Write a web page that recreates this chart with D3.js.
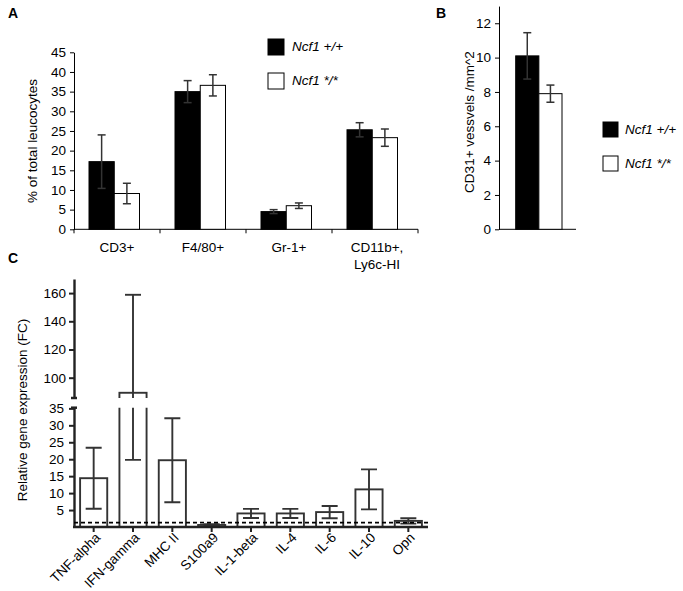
<!DOCTYPE html>
<html><head><meta charset="utf-8">
<script src="https://cdn.jsdelivr.net/npm/d3@7"></script>
<style>
body{margin:0;background:#fff;}
text{font-family:"Liberation Sans",Arial,sans-serif;}
</style></head><body>
<svg id="c" width="683" height="591"></svg>
<script>
// ---------- Data ----------
// Panel A
const catsA = ["CD3+", "F4/80+", "Gr-1+", "CD11b+,|Ly6c-HI"];
const seriesNames = ["Ncf1 +/+", "Ncf1 */*"];
const wtA = [17.2, 35.0, 4.5, 25.3];
const wtAerr = [6.8, 2.8, 0.5, 1.8];
const mutA = [9.1, 36.6, 6.0, 23.3];
const mutAerr = [2.6, 2.7, 0.7, 2.2];
const ticksA = [0, 5, 10, 15, 20, 25, 30, 35, 40, 45];
// Panel B
const wtB = 10.1, wtBerr = 1.35;
const mutB = 7.9, mutBerr = 0.5;
const ticksB = [0, 2, 4, 6, 8, 10, 12];
// Panel C
const catsC = ["TNF-alpha", "IFN-gamma", "MHC II", "S100a9", "IL-1-beta", "IL-4", "IL-6", "IL-10", "Opn"];
const valC = [14.4, 89.3, 19.7, 0.6, 4.0, 4.0, 4.4, 11.1, 1.8];
const errC = [9.0, 69.5, 12.4, 0.2, 1.35, 1.35, 1.8, 5.9, 0.8];
const ticksCLow = [5, 10, 15, 20, 25, 30, 35];
const ticksCHigh = [100, 120, 140, 160];
const refLine = 1.3;

const svg = d3.select("#c");
const F = 13.5;

// ---------- Panel labels ----------
svg.append("text").attr("x", 8).attr("y", 18).attr("font-size", 14).attr("font-weight", "bold").text("A");
svg.append("text").attr("x", 436).attr("y", 18).attr("font-size", 14).attr("font-weight", "bold").text("B");
svg.append("text").attr("x", 8).attr("y", 263).attr("font-size", 14).attr("font-weight", "bold").text("C");

// ---------- Panel A ----------
const yA = d3.scaleLinear().domain([0, 45]).range([229.3, 52.3]);
const x0A = d3.scaleBand().domain(catsA).range([74, 418]);
const x1A = d3.scaleBand().domain(seriesNames).range([15, 65.5]);
const gA = svg.append("g");
const axA = gA.append("g").attr("transform", "translate(74,0)")
  .call(d3.axisLeft(yA).tickValues(ticksA).tickSize(4).tickPadding(4).tickSizeOuter(0));
axA.selectAll("text").attr("font-size", F).attr("font-family", "Liberation Sans, Arial, sans-serif").attr("fill", "#000");
axA.selectAll("line,path").attr("stroke", "#000");
// x axis
const xAxA = gA.append("g").attr("transform", "translate(0,229.3)");
xAxA.append("line").attr("x1", 74).attr("x2", 418).attr("stroke", "#000");
const bnds = catsA.map(c => x0A(c)).concat([418]);
xAxA.selectAll("line.t").data(bnds).enter().append("line").attr("class", "t")
  .attr("x1", d => d).attr("x2", d => d).attr("y1", 0).attr("y2", 4).attr("stroke", "#000");
catsA.forEach(c => {
  const parts = c.split("|");
  const t = xAxA.append("text").attr("text-anchor", "middle").attr("font-size", F);
  parts.forEach((p, i) => t.append("tspan").attr("x", x0A(c) + x0A.bandwidth() / 2 + (parts.length > 1 ? 2 : 0)).attr("y", 23 + i * 17).text(p));
});
function drawErr(g, x, yTop, yBot, hw, color, w) {
  g.append("line").attr("x1", x).attr("x2", x).attr("y1", yTop).attr("y2", yBot).attr("stroke", color).attr("stroke-width", w);
  g.append("line").attr("x1", x - hw).attr("x2", x + hw).attr("y1", yTop).attr("y2", yTop).attr("stroke", color).attr("stroke-width", w);
  g.append("line").attr("x1", x - hw).attr("x2", x + hw).attr("y1", yBot).attr("y2", yBot).attr("stroke", color).attr("stroke-width", w);
}
catsA.forEach((c, i) => {
  [[wtA, wtAerr, "#000"], [mutA, mutAerr, "#fff"]].forEach(([v, e, fill], s) => {
    const x = x0A(c) + x1A(seriesNames[s]);
    const w = x1A.bandwidth();
    gA.append("rect").attr("x", x).attr("y", yA(v[i])).attr("width", w).attr("height", yA(0) - yA(v[i]))
      .attr("fill", fill).attr("stroke", "#000").attr("stroke-width", 1);
    drawErr(gA, x + w / 2, yA(v[i] + e[i]), yA(v[i] - e[i]), 4, "#333", 1.5);
  });
});
// legend A
[["#000", seriesNames[0], 39], ["#fff", seriesNames[1], 73]].forEach(([f, t, y]) => {
  gA.append("rect").attr("x", 268).attr("y", y).attr("width", 16).attr("height", 16).attr("fill", f).attr("stroke", "#000");
  gA.append("text").attr("x", 292).attr("y", y + 12).attr("font-size", F).attr("font-style", "italic").text(t);
});
gA.append("text").attr("transform", "translate(37,141) rotate(-90)").attr("text-anchor", "middle").attr("font-size", F)
  .text("% of total leucocytes");

// ---------- Panel B ----------
const yB = d3.scaleLinear().domain([0, 13]).range([229.3, 229.3 - 13 * 17.17]);
const xB = d3.scaleBand().domain(seriesNames).range([515.7, 562]);
const gB = svg.append("g");
const axB = gB.append("g").attr("transform", "translate(499,0)")
  .call(d3.axisLeft(yB).tickValues(ticksB).tickSize(4).tickPadding(4).tickSizeOuter(0));
axB.selectAll("text").attr("font-size", F).attr("font-family", "Liberation Sans, Arial, sans-serif").attr("fill", "#000");
axB.selectAll("line,path").attr("stroke", "#000");
gB.append("line").attr("x1", 499).attr("x2", 576).attr("y1", 229.3).attr("y2", 229.3).attr("stroke", "#000");
[[wtB, wtBerr, "#000", 0], [mutB, mutBerr, "#fff", 1]].forEach(([v, e, f, s]) => {
  const x = xB(seriesNames[s]), w = xB.bandwidth();
  gB.append("rect").attr("x", x).attr("y", yB(v)).attr("width", w).attr("height", yB(0) - yB(v))
    .attr("fill", f).attr("stroke", "#000");
  drawErr(gB, x + w / 2, yB(v + e), yB(v - e), 4, "#333", 1.5);
});
gB.append("text").attr("transform", "translate(474,122) rotate(-90)").attr("text-anchor", "middle").attr("font-size", F)
  .text("CD31+ vessvels /mm^2");
[["#000", seriesNames[0], 122], ["#fff", seriesNames[1], 156]].forEach(([f, t, y]) => {
  gB.append("rect").attr("x", 603).attr("y", y).attr("width", 15).attr("height", 15).attr("fill", f).attr("stroke", "#000");
  gB.append("text").attr("x", 625).attr("y", y + 12).attr("font-size", F).attr("font-style", "italic").text(t);
});

// ---------- Panel C ----------
const yL = d3.scaleLinear().domain([0, 35.2]).range([527, 407.7]);
const yU = d3.scaleLinear().domain([85.6, 170]).range([398, 279]);
const xC = d3.scaleBand().domain(catsC).range([74, 428]).paddingInner(0.31).paddingOuter(0.155);
const xCc = d3.scaleBand().domain(catsC).range([74, 428]);
const gC = svg.append("g");
const lw = 2.4;
// axes
const axL = gC.append("g").attr("transform", "translate(74,0)")
  .call(d3.axisLeft(yL).tickValues(ticksCLow).tickSize(5).tickPadding(5).tickSizeOuter(0));
const axU = gC.append("g").attr("transform", "translate(74,0)")
  .call(d3.axisLeft(yU).tickValues(ticksCHigh).tickSize(5).tickPadding(3).tickSizeOuter(0));
[axL, axU].forEach(a => {
  a.selectAll("text").attr("font-size", F).attr("font-family", "Liberation Sans, Arial, sans-serif").attr("fill", "#000");
  a.selectAll("line").attr("stroke", "#222").attr("stroke-width", 2);
  a.select("path").attr("stroke", "#222").attr("stroke-width", lw);
});
// break caps
[[398], [407.7]].forEach(([y]) => gC.append("line").attr("x1", 71).attr("x2", 77).attr("y1", y).attr("y2", y).attr("stroke", "#222").attr("stroke-width", 2.5));
// clip paths for segments
const defs = svg.append("defs");
defs.append("clipPath").attr("id", "clipL").append("rect").attr("x", 74).attr("y", 407.7).attr("width", 360).attr("height", 121);
defs.append("clipPath").attr("id", "clipU").append("rect").attr("x", 74).attr("y", 270).attr("width", 360).attr("height", 128);
function drawBars(g, y) {
  catsC.forEach((c, i) => {
    const x = xC(c), w = xC.bandwidth(), v = valC[i], e = errC[i];
    g.append("rect").attr("x", x).attr("y", y(v)).attr("width", w).attr("height", Math.max(0, y(0) - y(v)))
      .attr("fill", "#fff").attr("stroke", "#333").attr("stroke-width", 1.9);
    const cx = x + w / 2;
    drawErr(g, cx, y(v + e), y(Math.max(0, v - e)), 8, "#333", 1.9);
  });
}
const gLo = gC.append("g").attr("clip-path", "url(#clipL)");
drawBars(gLo, yL);
const gHi = gC.append("g").attr("clip-path", "url(#clipU)");
drawBars(gHi, yU);
// dashed reference line
gLo.append("line").attr("x1", 74).attr("x2", 428).attr("y1", yL(refLine)).attr("y2", yL(refLine))
  .attr("stroke", "#000").attr("stroke-width", 1.7).attr("stroke-dasharray", "4,3");
// x axis
gC.append("line").attr("x1", 73).attr("x2", 428).attr("y1", 527).attr("y2", 527).attr("stroke", "#222").attr("stroke-width", 2.6);
catsC.forEach(c => {
  const cx = xCc(c) + xCc.bandwidth() / 2;
  gC.append("line").attr("x1", cx).attr("x2", cx).attr("y1", 527).attr("y2", 532).attr("stroke", "#222").attr("stroke-width", 2);
  gC.append("text").attr("transform", `translate(${cx + 4},535) rotate(-45)`).attr("text-anchor", "end")
    .attr("font-size", 13.5).attr("dy", "0.35em").text(c);
});
gC.append("text").attr("transform", "translate(27,410) rotate(-90)").attr("text-anchor", "middle").attr("font-size", F)
  .text("Relative gene expression (FC)");
</script>
</body></html>
